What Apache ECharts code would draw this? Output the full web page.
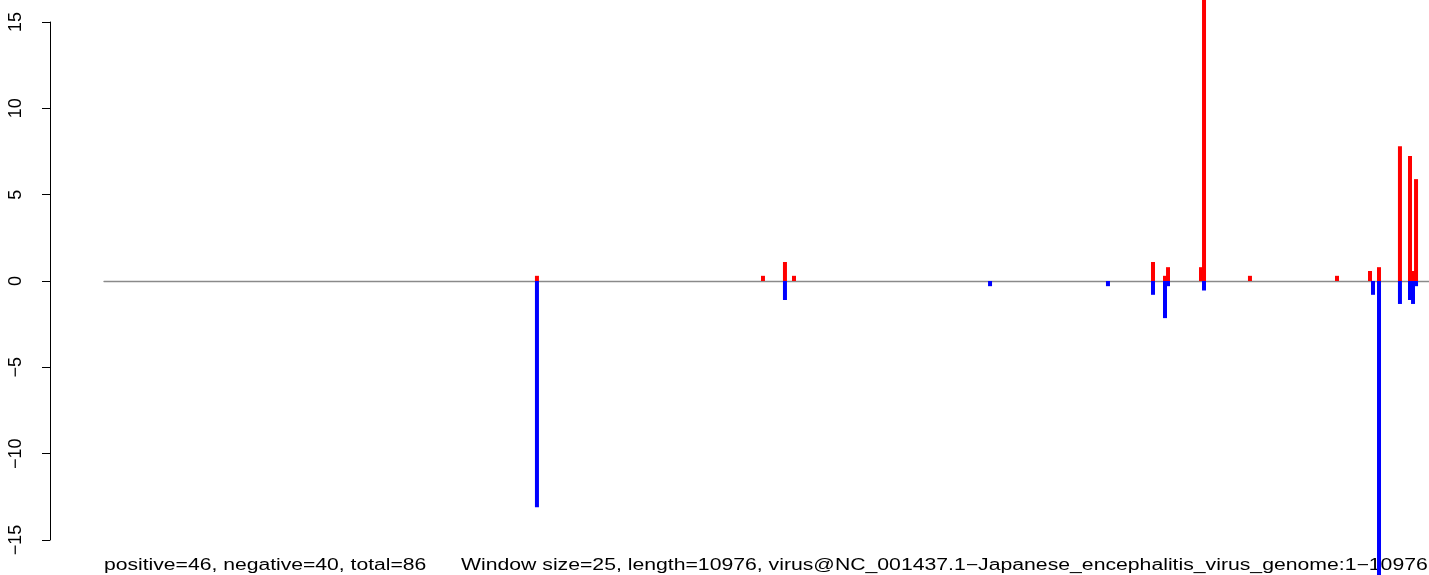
<!DOCTYPE html>
<html>
<head>
<meta charset="utf-8">
<script src="https://cdn.jsdelivr.net/npm/echarts@6/dist/echarts.min.js"></script>
<style>
html,body{margin:0;padding:0;background:#fff;}
#chart{width:1429px;height:575px;}
</style>
</head>
<body>
<div id="chart"></div>
<script>
// Genome position (bp) of each window with a positive score, and its value
const posX = [3303, 5256, 5446, 5524, 8626, 8730, 8756, 9041, 9067, 9464, 10216, 10501, 10579, 10760, 10847, 10873, 10899];
const posY = [0.3, 0.3, 1.1, 0.3, 1.1, 0.3, 0.8, 0.8, 17.5, 0.3, 0.3, 0.58, 0.8, 7.8, 7.24, 0.58, 5.9];
// Genome position (bp) of each window with a negative score, and its value
const negX = [3303, 5446, 7218, 8237, 8626, 8730, 8756, 9067, 10527, 10579, 10760, 10847, 10873, 10899];
const negY = [-13.1, -1.1, -0.3, -0.3, -0.8, -2.15, -0.3, -0.55, -0.8, -17.5, -1.33, -1.1, -1.33, -0.3];
const yTicks = [-15, -10, -5, 0, 5, 10, 15];
const subLeft = 'positive=46, negative=40, total=86';
const subRight = 'Window size=25, length=10976, virus@NC_001437.1\u2212Japanese_encephalitis_virus_genome:1\u221210976';

const FONT = '"Liberation Sans", Arial, Helvetica, sans-serif';
const chart = echarts.init(document.getElementById('chart'), null, {renderer: 'canvas'});

chart.setOption({
  animation: false,
  backgroundColor: '#ffffff',
  grid: {left: 104, right: 0, top: 22, bottom: 35, containLabel: false},
  xAxis: {
    type: 'value', min: -438, max: 11011,
    axisLine: {show: true, onZero: true, lineStyle: {color: '#8a8a8a', width: 1.3}},
    axisTick: {show: false}, axisLabel: {show: false}, splitLine: {show: false}
  },
  yAxis: {
    type: 'value', min: yTicks[0], max: yTicks[yTicks.length - 1], interval: 5,
    offset: 54,
    axisLine: {show: true, onZero: false, lineStyle: {color: '#000', width: 1}},
    axisTick: {show: true, inside: false, length: 8, lineStyle: {color: '#000', width: 1}},
    axisLabel: {
      show: true, rotate: 90, margin: 25, color: '#000', fontSize: 18, fontFamily: FONT,
      formatter: v => String(v).replace('-', '\u2212')
    },
    splitLine: {show: false}
  },
  series: [
    {
      type: 'bar', name: 'positive', barWidth: 4, barGap: '-100%', clip: false,
      itemStyle: {color: '#ff0000'},
      data: posX.map((x, i) => [x, posY[i]])
    },
    {
      type: 'bar', name: 'negative', barWidth: 4, barGap: '-100%', clip: false,
      itemStyle: {color: '#0000ff'},
      data: negX.map((x, i) => [x, negY[i]])
    }
  ],
  graphic: [
    {type: 'text', x: 104, y: 566, z: 0, scaleX: 1.32,
     style: {text: subLeft, font: '16px ' + FONT, fill: '#000', verticalAlign: 'middle', align: 'left'}},
    {type: 'text', x: 461, y: 566, z: 0, scaleX: 1.325,
     style: {text: subRight, font: '16px ' + FONT, fill: '#000', verticalAlign: 'middle', align: 'left'}}
  ]
});
</script>
</body>
</html>
